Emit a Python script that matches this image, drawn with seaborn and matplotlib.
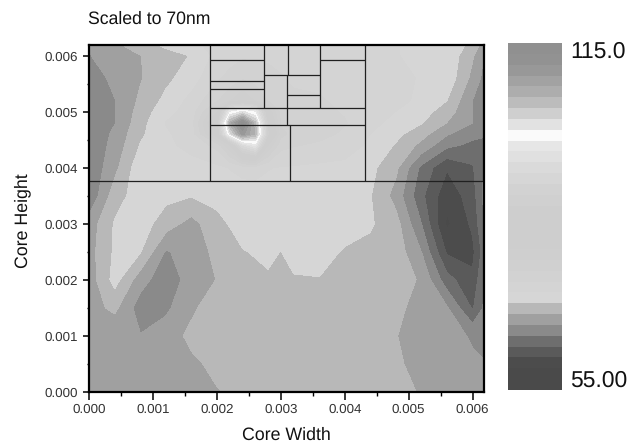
import numpy as np
import matplotlib
matplotlib.use("Agg")
import matplotlib.pyplot as plt
from matplotlib.colors import ListedColormap
from matplotlib.ticker import MultipleLocator, FormatStrFormatter
import seaborn as sns

core_width = [0, .0004, .0008, .0012, .0016, .002, .0022, .0024, .0026, .0028, .003, .0032, .0036, .004, .0044, .0048, .0052, .0056, .006, .0062]
core_height = [0, .0005, .001, .0015, .002, .0025, .003, .0035, .004, .0044, .0046, .0048, .005, .0052, .0056, .006, .0062]

row_0000 = [67.5, 67.6, 67.7, 67.8, 68.0, 68.45, 68.7, 69.0, 69.2, 69.3, 69.4, 69.5, 69.5, 69.5, 69.4, 69.1, 68.4, 67.8, 67.2, 67.0]
row_0005 = [67.4, 67.5, 67.6, 67.8, 68.2, 69.0, 69.2, 69.4, 69.5, 69.6, 69.7, 69.7, 69.7, 69.7, 69.6, 68.8, 68.0, 67.5, 66.9, 66.7]
row_0010 = [67.3, 67.0, 66.7, 67.6, 69.0, 69.7, 69.8, 69.9, 70.0, 70.0, 70.0, 70.0, 70.0, 69.9, 69.5, 68.6, 67.9, 67.3, 66.4, 66.0]
row_0015 = [67.8, 69.0, 65.6, 66.2, 68.2, 69.6, 69.8, 70.0, 70.1, 70.2, 70.2, 70.2, 70.2, 70.0, 69.6, 68.9, 68.0, 66.8, 62.5, 65.2]
row_0020 = [67.5, 71.2, 67.5, 65.2, 67.6, 68.6, 69.2, 69.8, 70.1, 70.3, 70.3, 70.3, 70.4, 70.2, 69.9, 69.5, 68.3, 63.5, 61.2, 65.0]
row_0025 = [67.8, 70.8, 70.6, 66.4, 67.6, 69.0, 69.7, 70.4, 70.6, 70.8, 70.45, 71.2, 71.2, 70.3, 70.0, 69.7, 66.6, 60.5, 60.3, 64.0]
row_0030 = [67.5, 70.7, 71.4, 69.5, 67.8, 70.0, 70.6, 71.2, 71.4, 71.5, 71.6, 71.6, 71.6, 71.3, 70.7, 69.3, 64.7, 58.5, 61.2, 65.0]
row_0035 = [65.0, 69.6, 71.5, 71.0, 70.6, 71.0, 71.3, 71.5, 71.7, 71.8, 71.8, 71.8, 71.8, 71.5, 70.6, 67.8, 63.2, 59.5, 61.8, 65.5]
row_0040 = [65.0, 68.0, 71.8, 71.7, 71.7, 72.0, 72.5, 73.0, 73.0, 72.5, 72.3, 72.2, 72.0, 71.8, 71.0, 69.0, 64.2, 61.0, 62.5, 65.0]
row_0044 = [65.0, 67.3, 70.6, 72.0, 73.0, 75.0, 80.0, 92.0, 96.0, 80.0, 75.0, 74.5, 74.0, 73.5, 72.0, 70.3, 68.0, 65.2, 64.2, 64.0]
row_0046 = [65.1, 67.0, 70.1, 72.2, 73.2, 82.0, 100.0, 110.0, 105.0, 86.0, 77.0, 75.5, 75.0, 74.0, 72.4, 71.0, 69.3, 66.8, 65.3, 64.9]
row_0048 = [65.2, 66.55, 69.7, 72.5, 73.5, 84.0, 106.0, 114.0, 104.0, 85.0, 76.0, 75.0, 74.8, 74.5, 73.0, 71.8, 70.6, 68.5, 66.6, 65.8]
row_0050 = [65.2, 66.55, 69.3, 71.8, 73.2, 80.0, 97.0, 100.0, 97.0, 82.0, 75.5, 75.0, 74.8, 74.2, 73.2, 72.4, 71.3, 69.5, 66.6, 65.6]
row_0052 = [65.2, 66.55, 68.9, 71.0, 73.0, 76.0, 78.0, 80.0, 78.0, 76.0, 75.0, 74.8, 74.5, 74.0, 73.5, 73.0, 72.0, 70.5, 66.6, 65.5]
row_0056 = [65.4, 67.2, 68.4, 70.0, 71.5, 74.0, 75.0, 76.0, 75.5, 75.0, 74.5, 74.0, 74.0, 73.5, 73.0, 72.8, 72.3, 71.8, 68.0, 65.8]
row_0060 = [66.5, 68.0, 68.5, 69.6, 70.6, 73.0, 73.5, 74.0, 74.0, 74.0, 73.8, 73.5, 73.0, 73.0, 72.8, 72.5, 72.0, 72.0, 68.8, 66.4]
row_0062 = [66.7, 68.2, 69.6, 71.0, 72.0, 73.0, 73.2, 73.5, 73.5, 73.5, 73.5, 73.0, 73.0, 72.8, 72.5, 72.5, 72.0, 72.2, 69.8, 67.5]

band_greys = ["4a", "4a", "4c", "5a", "6e", "8a", "a0", "b8", "d6", "d4", "d2", "d0", "cf", "ce", "ce", "ce",
              "d0", "d2", "d6", "da", "e0", "e6", "fa", "e2", "cf", "bc", "ad", "a2", "98", "92", "90"]
legend_greys = ["4a", "4a", "4c", "5a", "6e", "8a", "a0", "b8", "d6", "d4", "d2", "d0", "cf", "ce", "ce", "ce", "ce",
                "d0", "d2", "d6", "da", "e0", "e6", "fa", "e2", "cf", "bc", "ad", "a2", "98", "92", "90"]
scale_min = 55.0
scale_max = 115.0
scale_labels = ["115.0", "55.00"]

# treemap partition: (x, y_start, y_end) and (y, x_start, x_end)
vertical_edges = [(.00189, .00376, .0062), (.00431, .00376, .0062), (.00274, .00506, .0062),
                  (.00311, .00565, .0062), (.00361, .00506, .0062), (.0031, .00477, .00565),
                  (.00314, .00376, .00477)]
horizontal_edges = [(.00376, 0, .0062), (.00592, .00189, .00274), (.00592, .00361, .00431),
                    (.00555, .00189, .00274), (.0054, .00189, .00274), (.00506, .00189, .00431),
                    (.00477, .00189, .00431), (.00565, .00274, .00361), (.0053, .0031, .00361)]

sns.set_theme(style="ticks")
plt.rcParams["font.family"] = ["Liberation Sans", "DejaVu Sans"]
plt.rcParams["text.hinting"] = "no_hinting"

W, H = 634, 443
fig = plt.figure(figsize=(W / 100, H / 100), dpi=100, facecolor="white")
ax = fig.add_axes([89.3 / W, 1 - 391.7 / H, (484 - 89.3) / W, (391.7 - 44.5) / H])

z = np.array([row_0000, row_0005, row_0010, row_0015, row_0020, row_0025, row_0030, row_0035,
              row_0040, row_0044, row_0046, row_0048, row_0050, row_0052, row_0056, row_0060, row_0062])
colors = ["#" + g * 3 for g in band_greys]
levels = np.linspace(scale_min, scale_max, len(colors) + 1)
ax.contourf(core_width, core_height, z, levels=levels, colors=colors, extend="both")

for x, y0, y1 in vertical_edges:
    ax.plot([x, x], [y0, y1], color="#202020", lw=0.9, solid_capstyle="butt")
for y, x0, x1 in horizontal_edges:
    ax.plot([x0, x1], [y, y], color="#202020", lw=0.9, solid_capstyle="butt")

ax.set_xlim(0, .00618)
ax.set_ylim(0, .0062)
ax.xaxis.set_major_locator(MultipleLocator(.001))
ax.yaxis.set_major_locator(MultipleLocator(.001))
ax.xaxis.set_minor_locator(MultipleLocator(.0005))
ax.yaxis.set_minor_locator(MultipleLocator(.0005))
ax.xaxis.set_major_formatter(FormatStrFormatter("%.3f"))
ax.yaxis.set_major_formatter(FormatStrFormatter("%.3f"))
ax.tick_params(axis="x", which="major", length=5.5, width=1.1, labelsize=9.6, pad=3, color="black", labelcolor="#333333", bottom=True)
ax.tick_params(axis="y", which="major", length=4, width=1.1, labelsize=9.6, pad=4.5, color="black", labelcolor="#333333", left=True)
ax.tick_params(axis="x", which="minor", length=2.8, width=1.0, color="black", bottom=True)
ax.tick_params(axis="y", which="minor", length=1.8, width=1.0, color="black", left=True)
for s in ax.spines.values():
    s.set_visible(True)
    s.set_color("black")
    s.set_linewidth(1.6)
fig.text(286 / W, 1 - 435 / H, "Core Width", fontsize=12.8, color="#111111", ha="center", va="center")
fig.text(23 / W, 1 - 221 / H, "Core Height", fontsize=12.8, color="#111111", ha="center", va="center", rotation=90)
fig.text(88 / W, 1 - 19.5 / H, "Scaled to 70nm", fontsize=12.7, color="#111111", ha="left", va="center")

cax = fig.add_axes([508 / W, 1 - 390 / H, (562 - 508) / W, (390 - 43) / H])
legend_colors = ["#" + g * 3 for g in legend_greys]
bands = np.arange(len(legend_colors))[::-1].reshape(-1, 1)
sns.heatmap(bands, ax=cax, cmap=ListedColormap(legend_colors), cbar=False, xticklabels=False, yticklabels=False,
            vmin=-0.5, vmax=len(legend_colors) - 0.5)
fig.text(570 / W, 1 - 52 / H, scale_labels[0], fontsize=16.5, color="#111111", ha="left", va="center")
fig.text(570 / W, 1 - 381 / H, scale_labels[1], fontsize=16.5, color="#111111", ha="left", va="center")

fig.savefig("out.png", dpi=100)
